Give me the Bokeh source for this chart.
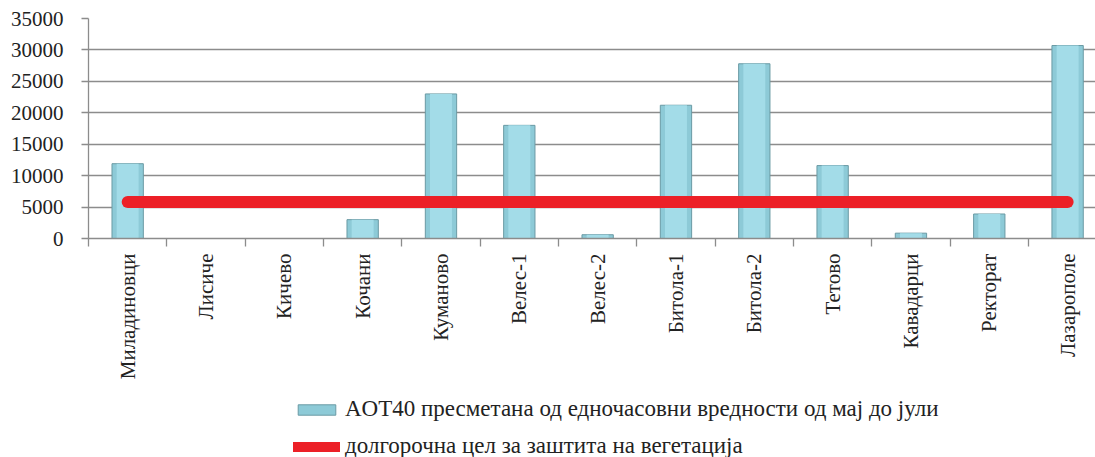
import math
from bokeh.plotting import figure
from bokeh.layouts import column
from bokeh.models import (ColumnDataSource, FixedTicker, LinearAxis, Range1d,
                          Legend, LegendItem)
from bokeh.embed import file_html
from bokeh.resources import INLINE

# ---- data ----
stations = ["Миладиновци", "Лисиче", "Кичево", "Кочани", "Куманово", "Велес-1",
            "Велес-2", "Битола-1", "Битола-2", "Тетово", "Кавадарци", "Ректорат",
            "Лазарополе"]
aot40 = [11900, 0, 0, 3000, 23000, 18000, 600, 21200, 27800, 11600, 850, 3900, 30700]
target_value = 5800
y_ticks = [0, 5000, 10000, 15000, 20000, 25000, 30000, 35000]
series_labels = ["AOT40 пресметана од едночасовни вредности од мај до јули",
                 "долгорочна цел за заштита на вегетација"]

FONT = "Liberation Serif"
GRID = "#8c8c8c"
TEXT = "#222222"
BAR_FILL = "#8dcad7"
BAR_LINE = "#6a9aa4"
RED = "#ec2027"

positions = list(range(len(stations)))                 # bar centres
boundaries = [i - 0.5 for i in range(len(stations))]   # category boundaries

src = ColumnDataSource(dict(x=positions, top=aot40))
line_src = ColumnDataSource(dict(x=[positions[0], positions[-1]],
                                 y=[target_value, target_value]))

p = figure(width=1095, height=395,
           x_range=Range1d(-0.5, 12.356), y_range=Range1d(0, 35000),
           output_backend="svg", toolbar_location=None,
           min_border_left=88, min_border_top=18, min_border_bottom=157,
           min_border_right=0)
p.outline_line_color = None
p.background_fill_color = "white"
p.border_fill_color = "white"

# grid
p.xgrid.visible = False
p.ygrid.ticker = FixedTicker(ticks=y_ticks)
p.ygrid.grid_line_color = GRID
p.ygrid.grid_line_width = 1.3

# y axis
p.yaxis.ticker = FixedTicker(ticks=y_ticks)
p.yaxis.axis_line_color = GRID
p.yaxis.axis_line_width = 1.3
p.yaxis.major_tick_line_color = GRID
p.yaxis.major_tick_line_width = 1.3
p.yaxis.major_tick_out = 7
p.yaxis.major_tick_in = 0
p.yaxis.minor_tick_line_color = None
p.yaxis.major_label_standoff = 18
p.yaxis.major_label_text_font = FONT
p.yaxis.major_label_text_font_size = "21px"
p.yaxis.major_label_text_color = TEXT

# x axis with boundary ticks only
p.xaxis.ticker = FixedTicker(ticks=boundaries)
p.xaxis.axis_line_color = GRID
p.xaxis.axis_line_width = 1.3
p.xaxis.major_tick_line_color = GRID
p.xaxis.major_tick_line_width = 1.3
p.xaxis.major_tick_out = 8
p.xaxis.major_tick_in = 0
p.xaxis.minor_tick_line_color = None
p.xaxis.major_label_text_font_size = "0px"
p.xaxis.major_label_text_color = None
p.xaxis.major_label_standoff = 0

# x axis carrying the station names
label_axis = LinearAxis(ticker=FixedTicker(ticks=positions),
                        major_label_overrides={i: s for i, s in zip(positions, stations)},
                        axis_line_color=None, major_tick_line_color=None,
                        minor_tick_line_color=None, major_tick_out=0, major_tick_in=0,
                        major_label_orientation=math.pi / 2,
                        major_label_standoff=7,
                        major_label_text_font=FONT,
                        major_label_text_font_size="21px",
                        major_label_text_color=TEXT)
p.add_layout(label_axis, "below")

# bars
p.vbar(x="x", top="top", width=0.4, source=src,
       fill_color=BAR_FILL, line_color=BAR_LINE, line_width=1)
p.vbar(x="x", top="top", width=0.28, source=src,
       fill_color="#a3dce8", line_color=None)

# long-term objective line
p.line(x="x", y="y", source=line_src, line_color=RED,
       line_width=12, line_cap="round")

# ---- legend strip below the chart ----
lg = figure(width=1095, height=62, x_range=Range1d(0, 1), y_range=Range1d(0, 1),
            output_backend="svg", toolbar_location=None,
            min_border_left=0, min_border_right=0, min_border_top=0,
            min_border_bottom=0)
lg.axis.visible = False
lg.grid.visible = False
lg.outline_line_color = None
lg.background_fill_color = "white"
lg.border_fill_color = "white"

bars_key = lg.vbar(x="x", top="top", width=0.4, source=src,
                   fill_color=BAR_FILL, line_color=BAR_LINE, line_width=1,
                   visible=False)
red_key = lg.line(x="x", y="y", source=line_src, line_color=RED,
                  line_width=10, line_cap="round", visible=False)

legend = Legend(items=[LegendItem(label=series_labels[0], renderers=[bars_key]),
                       LegendItem(label=series_labels[1], renderers=[red_key])],
                location=(205, -2), padding=0, margin=0,
                border_line_color=None, background_fill_alpha=0,
                glyph_width=47, glyph_height=13, label_height=26,
                label_standoff=5, spacing=11,
                label_text_font=FONT, label_text_font_size="23px",
                label_text_color=TEXT)
lg.add_layout(legend, "center")

layout = column(p, lg, spacing=0)
open("out.html", "w").write(file_html(layout, INLINE))
